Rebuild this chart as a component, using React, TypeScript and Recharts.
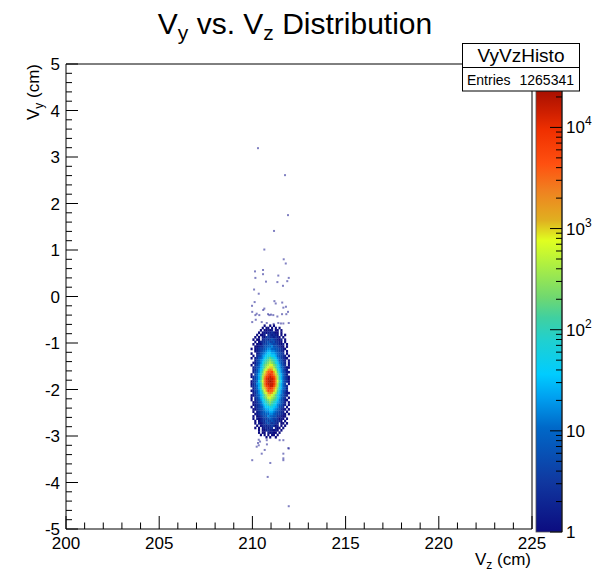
import React from "react";
import { ScatterChart, Scatter, XAxis, YAxis, ReferenceArea } from "recharts";

// ---------- data ----------
const histName = "VyVzHisto";
const entries = "1265341";

// 2D histogram bins (Vz columns x Vy rows), each char = log10(count)/0.2 level ('a'=1 count), '.' = empty
const binZ0 = 209.95; // centre of first column (cm)
const binY0 = -0.625; // centre of first row (cm)
const binDZ = 0.1;
const binDY = 0.05;
const levelStep = 0.2;
const gridRows: string[] = [
  ".......a..a.a........",
  "......a.aa.a.a.a.....",
  ".....a.aabab.aa.a....",
  "....a.ababbcbaa.a....",
  "...a.aab.ccbcba.a.a..",
  "..a.a.bacdccbcba.a...",
  ".a.aa.bcdcdedcbab.a..",
  "..a.abccdeddeccba.a..",
  ".a.abacddefeddcbab.a.",
  "..aabcceeffgeedcba.a.",
  "a.abcddefggffeedcba..",
  "..abcdefghhggfedcb.a.",
  "a..bcefghiihhgfedc.a.",
  ".a.cdeghijjiihfedcb.a",
  "a.bcefgijklkjigfdcba.",
  "..bdeghjklmlkjhfecb.a",
  ".abdegiklmnmljigedb.a",
  "a.cdfhjlmnoomljhfdc.a",
  ".bcefhjlnoppnljhfecaa",
  ".bcegiknoqrqonkigecb.",
  ".bdegjloqsstqoljgedba",
  "a.dfhjmprtutrpmjhfdb.",
  "acdfhknqtuvutqnkhfdca",
  ".cdfhknruvvvurnkhfdca",
  "acdfiloruvwvurolifdca",
  "acdghknruvvvurnkhfd.a",
  "bcdfhknqtuvvtqnkhfdc.",
  ".bdfhjnprtutrpmjhfeb.",
  "abdegjloqtssqoljgedb.",
  ".bcegiknoqrqonkigecba",
  "aacefhjlnpponljhfecb.",
  "a.cdfhjlmoonmljhfdc.a",
  "a.bdegijlmnmlkigedba.",
  ".abcefhjklmlkjhgedb.a",
  ".abcdfgijklkjigfecb.a",
  "a.bcdefhiijjihgedc.a.",
  ".aacdefghhiihgfecba.a",
  ".a.bcdefgghhgfedcb.a.",
  "..abcdeeffggfeddcba.a",
  ".a.abcdeegffeeccbaa..",
  ".a.babcddefeddcaba.a.",
  "..a.abcceddedccba.a..",
  "..a.babcdedcdcb.aa.a.",
  "...a.abcbccdcab.a.a..",
  "..a.a.abcbcc.baa.a...",
  "....a.aabcbbaba.a....",
  "....a.aa.babaa.a.....",
  ".....a.a.a.aa.a......",
  "........a.a..a.......",
];

// isolated single-entry bins
const sparseZ = [
  210.30, 211.75, 211.91, 211.16, 210.64, 211.68, 211.79, 210.14, 210.57, 210.57,
  211.95, 210.16, 211.39, 210.73, 211.34, 211.87, 211.64, 210.09, 210.34, 211.18,
  211.25, 211.60, 210.12, 209.98, 211.80, 211.66, 210.64, 210.58, 211.91, 209.99,
  210.23, 210.16, 210.37, 210.84, 210.91, 211.00, 211.12, 211.34, 211.59, 211.82,
  210.18, 210.50, 210.77, 211.14, 211.39, 211.53, 211.66, 211.95, 209.99,
  210.34, 210.77, 211.46, 210.30, 210.78, 210.34, 211.95, 210.66, 210.50, 211.66,
  209.99, 210.96, 211.66, 210.82, 211.95, 210.41, 211.66, 210.23, 211.93, 211.66,
];
const sparseY = [
  3.19, 2.61, 1.75, 1.41, 1.01, 0.80, 0.71, 0.54, 0.57, 0.48,
  0.40, 0.40, 0.45, 0.32, 0.31, 0.33, 0.23, 0.15, 0.06, -0.10,
  -0.15, -0.13, -0.12, -0.20, -0.22, -0.24, -0.26, -0.29, -0.33, -0.33,
  -0.37, -0.40, -0.40, -0.38, -0.40, -0.39, -0.40, -0.43, -0.38, -0.38,
  -0.50, -0.55, -0.57, -0.59, -0.57, -0.58, -0.58, -0.57, -0.55,
  -3.08, -3.09, -3.09, -3.15, -3.18, -3.20, -3.27, -3.30, -3.38, -3.38,
  -3.52, -3.58, -3.52, -3.88, -4.51, -3.12, -3.09, -3.23, -3.26, -3.48,
];

const xMajorTicks = [200, 205, 210, 215, 220, 225];
const yMajorTicks = [-5, -4, -3, -2, -1, 0, 1, 2, 3, 4, 5];
const paletteDecades = [0, 1, 2, 3, 4];
const paletteLabelBase = ["1", "10", "10", "10", "10"];
const paletteLabelExp = ["", "", "2", "3", "4"];

// ---------- style / layout ----------
const FONT = "'Liberation Sans', Arial, Helvetica, sans-serif";
const W = 592;
const H = 572;
const Y_AXIS_W = 60;
const X_AXIS_H = 40;
const MARGIN = { top: 64, right: 60, bottom: 43 - X_AXIS_H, left: 66 - Y_AXIS_W };
const Z_DOMAIN: [number, number] = [200, 225];
const Y_DOMAIN: [number, number] = [-5, 5];
const PLOT_W = W - 66 - 60;
const PLOT_H = H - 64 - 43;
const PX_PER_Z = PLOT_W / (Z_DOMAIN[1] - Z_DOMAIN[0]);
const PX_PER_Y = PLOT_H / (Y_DOMAIN[1] - Y_DOMAIN[0]);

const PAL_L = [0, 0.5, 1.03, 1.33, 1.56, 1.89, 2.12, 2.32, 2.65, 2.88, 3.08, 3.38, 3.64, 3.97, 4.14, 4.36];
const PAL_C = [
  "#0c0c80", "#1038a0", "#0068c8", "#00a0f0", "#00ccff", "#20d0d0", "#40d0a0", "#70d870",
  "#b0f040", "#e0ff20", "#e0b020", "#f08020", "#ff5010", "#f03000", "#d02000", "#a81000",
];
const LOG_MAX = 4.36;
const PAL = { x: 536, y: 91, w: 26, h: 441 };

const hex = (c: string) => [1, 3, 5].map((i) => parseInt(c.slice(i, i + 2), 16));
function colorFor(n: number) {
  const L = Math.max(0, Math.min(LOG_MAX, Math.log10(n)));
  let i = 0;
  while (i < PAL_L.length - 2 && L > PAL_L[i + 1]) i++;
  const t = (L - PAL_L[i]) / (PAL_L[i + 1] - PAL_L[i]);
  const a = hex(PAL_C[i]);
  const b = hex(PAL_C[i + 1]);
  const m = a.map((v, k) => Math.round(v + (b[k] - v) * Math.max(0, Math.min(1, t))));
  return `rgb(${m[0]},${m[1]},${m[2]})`;
}

// ---------- derived tables ----------
const cells: { z: number; y: number; n: number }[] = [];
gridRows.forEach((row, j) => {
  for (let i = 0; i < row.length; i++) {
    const ch = row[i];
    if (ch === ".") continue;
    const k = ch.charCodeAt(0) - 97;
    cells.push({
      z: +(binZ0 + i * binDZ).toFixed(3),
      y: +(binY0 - j * binDY).toFixed(3),
      n: Math.pow(10, k * levelStep),
    });
  }
});
const sparse = sparseZ.map((z, i) => ({ z, y: sparseY[i], n: 1 }));

const xTicks: number[] = [];
for (let v = Z_DOMAIN[0]; v <= Z_DOMAIN[1]; v++) xTicks.push(v);
const yTicks: number[] = [];
for (let i = 0; i <= 50; i++) yTicks.push(+(Y_DOMAIN[0] + i * 0.2).toFixed(1));

// ---------- renderers ----------
const CellShape = (props: any) => {
  const { cx, cy, payload } = props;
  if (cx == null || cy == null) return null;
  const w = binDZ * PX_PER_Z;
  const h = binDY * PX_PER_Y;
  return <rect x={cx - w / 2} y={cy - h / 2} width={w + 0.25} height={h + 0.25} fill={colorFor(payload.n)} />;
};
const SparseShape = (props: any) => {
  const { cx, cy } = props;
  if (cx == null || cy == null) return null;
  return <rect x={cx - 1} y={cy - 1} width={2} height={2} fill="#1a1a90" fillOpacity={0.55} />;
};

const XTick = (props: any) => {
  const { x, y, payload } = props;
  const v = payload.value;
  const major = xMajorTicks.includes(v);
  return (
    <g>
      <line x1={x} x2={x} y1={y} y2={y - (major ? 13 : 6.5)} stroke="#000" strokeWidth={1} />
      {major && (
        <text x={x} y={y + 20} textAnchor="middle" fontSize={17} fontFamily={FONT} fill="#000">
          {v}
        </text>
      )}
    </g>
  );
};
const YTick = (props: any) => {
  const { x, y, payload } = props;
  const v = payload.value;
  const major = yMajorTicks.some((m) => Math.abs(m - v) < 1e-6);
  return (
    <g>
      <line x1={x} x2={x + (major ? 12 : 6)} y1={y} y2={y} stroke="#000" strokeWidth={1} />
      {major && (
        <text x={x - 6} y={y + 6} textAnchor="end" fontSize={17} fontFamily={FONT} fill="#000">
          {Math.round(v)}
        </text>
      )}
    </g>
  );
};

const palY = (L: number) => PAL.y + PAL.h - (PAL.h * L) / LOG_MAX;

const Overlay = () => {
  const ticks: { y: number; major: boolean }[] = [];
  paletteDecades.forEach((d) => {
    for (let m = 1; m <= 9; m++) {
      const L = d + Math.log10(m);
      if (L <= LOG_MAX) ticks.push({ y: palY(L), major: m === 1 });
    }
  });
  return (
    <svg width={W} height={H} style={{ position: "absolute", left: 0, top: 0, pointerEvents: "none" }}>
      <defs>
        <linearGradient id="pal" x1="0" y1="1" x2="0" y2="0">
          {PAL_L.map((L, i) => (
            <stop key={i} offset={L / LOG_MAX} stopColor={PAL_C[i]} />
          ))}
        </linearGradient>
      </defs>
      {/* title */}
      <text x={295} y={34} textAnchor="middle" fontSize={30} fontFamily={FONT} fill="#000">
        V<tspan fontSize={21} dy={6}>y</tspan>
        <tspan dy={-6}> vs. V</tspan>
        <tspan fontSize={21} dy={6}>z</tspan>
        <tspan dy={-6}> Distribution</tspan>
      </text>
      {/* axis titles */}
      <text x={531} y={565} textAnchor="end" fontSize={17} fontFamily={FONT} fill="#000">
        V<tspan fontSize={12} dy={4}>z</tspan>
        <tspan dy={-4}> (cm)</tspan>
      </text>
      <text
        x={39}
        y={64}
        textAnchor="end"
        fontSize={17}
        fontFamily={FONT}
        fill="#000"
        transform="rotate(-90 39 64)"
      >
        V<tspan fontSize={12} dy={4}>y</tspan>
        <tspan dy={-4}> (cm)</tspan>
      </text>
      {/* palette */}
      <rect x={PAL.x} y={PAL.y} width={PAL.w} height={PAL.h} fill="url(#pal)" stroke="#555" strokeWidth={0.8} />
      {ticks.map((t, i) => (
        <line
          key={i}
          x1={PAL.x + PAL.w}
          x2={PAL.x + PAL.w - (t.major ? 12 : 6)}
          y1={t.y}
          y2={t.y}
          stroke="#000"
          strokeWidth={1}
        />
      ))}
      <line x1={PAL.x + PAL.w} x2={PAL.x + PAL.w} y1={PAL.y} y2={PAL.y + PAL.h} stroke="#000" />
      {paletteDecades.map((d, i) => (
        <text key={i} x={566} y={palY(d) + 6} fontSize={17} fontFamily={FONT} fill="#000">
          {paletteLabelBase[i]}
          {paletteLabelExp[i] && (
            <tspan fontSize={12} dy={-8}>
              {paletteLabelExp[i]}
            </tspan>
          )}
        </text>
      ))}
      {/* stats box */}
      <rect x={462.5} y={43.5} width={117} height={47.5} fill="#fff" stroke="#000" strokeWidth={1} />
      <line x1={462.5} x2={579.5} y1={67.5} y2={67.5} stroke="#000" strokeWidth={1} />
      <text x={521} y={62} textAnchor="middle" fontSize={19} fontFamily={FONT} fill="#000">
        {histName}
      </text>
      <text x={467} y={85} fontSize={14} fontFamily={FONT} fill="#000">
        Entries
      </text>
      <text x={574} y={85} textAnchor="end" fontSize={14} fontFamily={FONT} fill="#000">
        {entries}
      </text>
    </svg>
  );
};

export default function App() {
  return (
    <div style={{ position: "absolute", left: 0, top: 0, width: W, height: H, background: "#fff", overflow: "hidden" }}>
      <ScatterChart width={W} height={H} margin={MARGIN}>
        <XAxis
          type="number"
          dataKey="z"
          domain={Z_DOMAIN}
          ticks={xTicks}
          interval={0}
          allowDataOverflow
          axisLine={false}
          tickLine={false}
          tickSize={0}
          tickMargin={0}
          height={X_AXIS_H}
          tick={XTick}
        />
        <YAxis
          type="number"
          dataKey="y"
          domain={Y_DOMAIN}
          ticks={yTicks}
          interval={0}
          allowDataOverflow
          axisLine={false}
          tickLine={false}
          tickSize={0}
          tickMargin={0}
          width={Y_AXIS_W}
          tick={YTick}
        />
        <ReferenceArea
          x1={Z_DOMAIN[0]}
          x2={Z_DOMAIN[1]}
          y1={Y_DOMAIN[0]}
          y2={Y_DOMAIN[1]}
          fill="none"
          fillOpacity={0}
          stroke="#000"
          strokeWidth={1}
          ifOverflow="visible"
        />
        <Scatter data={sparse} shape={<SparseShape />} isAnimationActive={false} />
        <Scatter data={cells} shape={<CellShape />} isAnimationActive={false} />
      </ScatterChart>
      <Overlay />
    </div>
  );
}
